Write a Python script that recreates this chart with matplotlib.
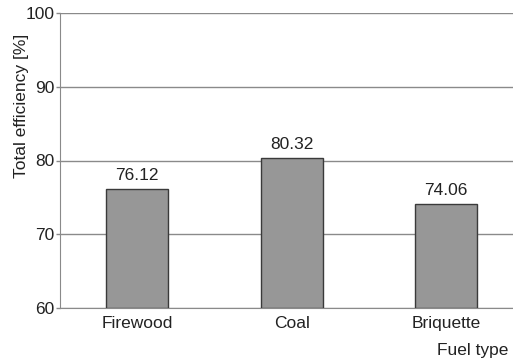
import matplotlib
matplotlib.use("Agg")
import matplotlib.pyplot as plt

categories = ["Firewood", "Coal", "Briquette"]
efficiency = [76.12, 80.32, 74.06]
yticks = [60, 70, 80, 90, 100]

plt.rcParams["font.family"] = ["Liberation Sans", "DejaVu Sans"]

W, H = 513, 363
FS = 12.5
TXT = "#222222"
GRID = "#8a8a8a"

fig = plt.figure(figsize=(W / 100, H / 100), dpi=100)
ax = fig.add_axes([60 / W, (H - 308) / H, (W - 60) / W, (308 - 13) / H])

x = list(range(len(categories)))
ax.bar(x, [v - 60 for v in efficiency], bottom=60, width=0.4,
       color="#979797", edgecolor="#3a3a3a", linewidth=1.0, zorder=3)
for xi, v in zip(x, efficiency):
    ax.text(xi, v + 0.8, f"{v:.2f}", ha="center", va="bottom", fontsize=FS, color=TXT)

ax.set_ylim(60, 100)
ax.set_xlim(-0.5, (W - 60) / 154.5 - 0.5)
ax.set_yticks(yticks)
ax.set_xticks(x)
ax.set_xticklabels(categories)
ax.tick_params(axis="y", length=3, width=1.0, color=GRID, labelsize=FS, labelcolor=TXT, pad=1)
ax.tick_params(axis="x", length=0, labelsize=FS, labelcolor=TXT, pad=6)
ax.grid(axis="y", color=GRID, linewidth=1.0, zorder=0)
ax.set_axisbelow(True)
for s in ["top", "right"]:
    ax.spines[s].set_visible(False)
ax.spines["left"].set_color(GRID)
ax.spines["bottom"].set_color(GRID)

fig.text(22 / W, 1 - 106 / H, "Total efficiency [%]", rotation=90,
         ha="center", va="center", fontsize=FS, color=TXT)
fig.text(508 / W, 1 - 350 / H, "Fuel type", ha="right", va="center", fontsize=FS, color=TXT)

fig.savefig("out.png", dpi=100)
